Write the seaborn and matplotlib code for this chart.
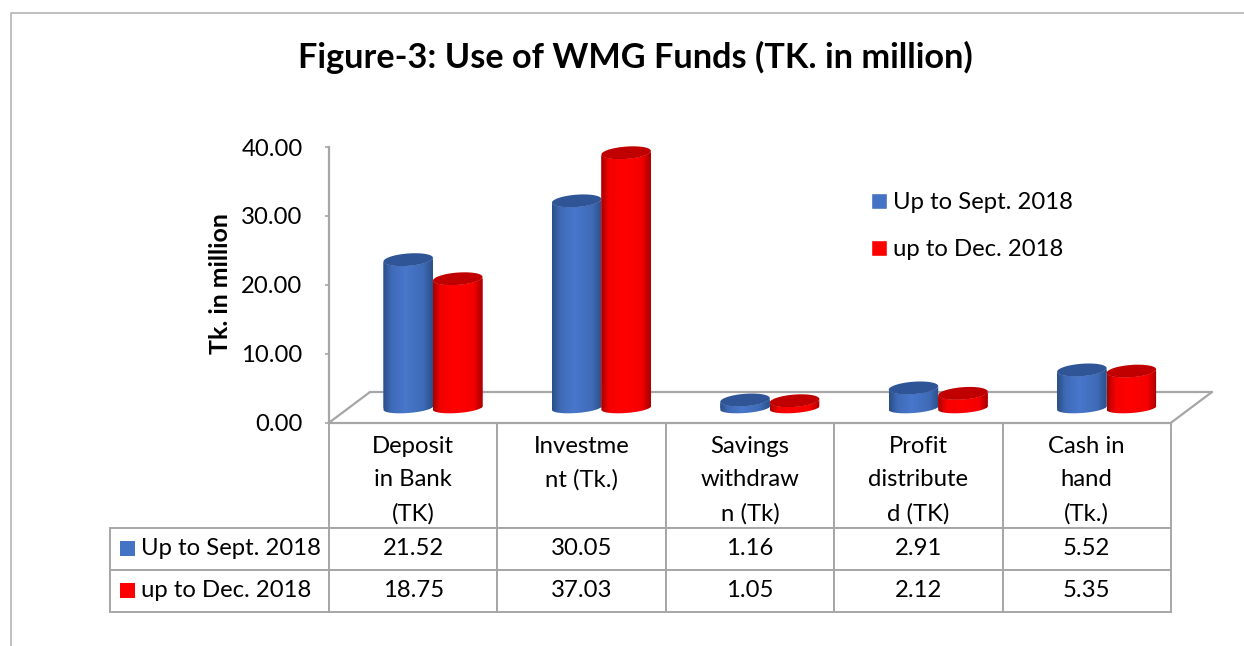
import numpy as np
import pandas as pd
import seaborn as sns
import matplotlib
matplotlib.use("Agg")
import matplotlib.pyplot as plt
from matplotlib.lines import Line2D
from matplotlib.patches import PathPatch, Patch
from matplotlib.path import Path
from matplotlib.colors import LinearSegmentedColormap

categories = ["Deposit\nin Bank\n(TK)", "Investme\nnt (Tk.)\n ", "Savings\nwithdraw\nn (Tk)",
              "Profit\ndistribute\nd (TK)", "Cash in\nhand\n(Tk.)"]
series_names = ["Up to Sept. 2018", "up to Dec. 2018"]
sept_values = [21.52, 30.05, 1.16, 2.91, 5.52]
dec_values = [18.75, 37.03, 1.05, 2.12, 5.35]
y_ticks = [0, 10, 20, 30, 40]

W, H = 1244, 646
GRAY = "#A6A6A6"
BLUE, RED = "#4472C4", "#FF0000"
FONT = "Lato"
FS = 17.2

sns.set_theme(style="white")
plt.rcParams["font.family"] = [FONT, "DejaVu Sans"]

def fx(x): return x / W
def fy(y): return 1 - y / H

fig = plt.figure(figsize=(W / 100, H / 100), dpi=100, facecolor="white")
L, R, T, B = 329, 1171, 147, 422.7
ax = fig.add_axes([fx(L), fy(B), (R - L) / W, (B - T) / H])
ax.patch.set_visible(False)

df = pd.DataFrame({
    "category": categories * 2,
    "series": [series_names[0]] * 5 + [series_names[1]] * 5,
    "value": sept_values + dec_values,
})
sns.barplot(data=df, x="category", y="value", hue="series", order=categories,
            hue_order=series_names, palette=[BLUE, RED], width=0.588, gap=0,
            errorbar=None, legend=False, saturation=1, ax=ax, linewidth=0)

cat_px = (R - L) / 5
ax.set_xlim(-(433 - L) / cat_px, (R - 433) / cat_px)
ax.set_ylim(0, 40)
unit_px = (B - T) / 40
floor = (B - 408) / unit_px        # bars stand on the raised 3D floor
b_top = 6.2 / unit_px              # top ellipse half height
b_low = 5.0 / unit_px              # bottom curve half height
tilt = 1.8 / unit_px               # ellipse tilt

def ramp(dark, mid, hi):
    return LinearSegmentedColormap.from_list("c", [(0, dark), (0.16, mid), (0.45, hi), (0.82, mid), (1, dark)])

cmaps = {BLUE: ramp("#2B5088", "#3E6AB6", "#4877CC"), RED: ramp("#A80000", "#F60000", "#FF0000")}
tops = {BLUE: "#2F5597", RED: "#C00000"}
grad = np.linspace(0, 1, 64).reshape(1, -1)
t = np.linspace(0, 2 * np.pi, 73)
xlim, ylim = ax.get_xlim(), ax.get_ylim()
bars = [p for p in ax.patches if p.get_height() > 0]
for i, p in enumerate(bars):
    colour = BLUE if i < 5 else RED
    x0, w, h = p.get_x(), p.get_width(), p.get_height()
    cx, a = x0 + w / 2, w / 2
    p.set_y(floor)
    zo = 3 + (i % 5) * 2 + (i // 5)
    lo = np.linspace(np.pi, 2 * np.pi, 37)
    hi = lo[::-1]
    xs = np.r_[cx + a * np.cos(lo), cx + a * np.cos(hi)]
    ys = np.r_[floor + b_low * np.sin(lo) + tilt * np.cos(lo),
               floor + h + b_top * np.sin(hi) + tilt * np.cos(hi)]
    body = PathPatch(Path(np.c_[xs, ys]), facecolor="none", edgecolor="none", zorder=zo)
    ax.add_patch(body)
    p.set_zorder(zo)
    p.set_clip_path(body)
    im = ax.imshow(grad, extent=[x0, x0 + w, floor - 2 * b_low, floor + h + 2 * b_top], cmap=cmaps[colour],
                   aspect="auto", zorder=zo, interpolation="bilinear")
    im.set_clip_path(body)
    ax.fill(cx + a * np.cos(t), floor + h + b_top * np.sin(t) + tilt * np.cos(t),
            color=tops[colour], lw=0, zorder=zo + 0.5, clip_on=False)
ax.set_xlim(xlim)
ax.set_ylim(ylim)

# axes
for s in ["top", "right"]:
    ax.spines[s].set_visible(False)
for s in ["left", "bottom"]:
    ax.spines[s].set_color(GRAY)
    ax.spines[s].set_linewidth(1.6)
ax.set_yticks(y_ticks)
ax.set_yticklabels([f"{v:.2f}" for v in y_ticks], fontsize=FS, color="black", family=FONT)
ax.tick_params(axis="y", length=3, width=1.2, color=GRAY, pad=16, left=True)
ax.set_xticks([])
ax.set_xlabel("")
ax.set_ylabel("")
fig.text(fx(221), fy(284), "Tk. in million", rotation=90, ha="center", va="center",
         fontsize=17.9, fontweight="bold", color="black")

# 3D floor
floor_lines = [([L, 370], [B, 392]), ([370, 1212], [392, 392]), ([1212, R], [392, B])]
for xs, ys in floor_lines:
    fig.add_artist(Line2D([fx(v) for v in xs], [fy(v) for v in ys], color=GRAY, lw=1.6, zorder=-1))

# outer frame
fig.add_artist(Line2D([fx(11), fx(11), fx(W)], [fy(H), fy(12.5), fy(12.5)], color="#B4B4B4", lw=1.2, zorder=-1))

# title
fig.text(fx(635), fy(57), "Figure-3: Use of WMG Funds (TK. in million)", ha="center", va="center",
         fontsize=24.7, fontweight="bold", color="black")

# data table
rows = [[""] * 6,
        [series_names[0]] + [f"{v:.2f}" for v in sept_values],
        [series_names[1]] + [f"{v:.2f}" for v in dec_values]]
TL = 110
TB = 611.5
tbl = ax.table(cellText=rows, cellLoc="center",
               bbox=[(TL - L) / (R - L), (B - TB) / (B - T), (R - TL) / (R - L), (TB - B) / (B - T)])
tbl.auto_set_font_size(False)
tbl.set_fontsize(FS)
heights = [105.3, 42, 41.7]
widths = [L - TL] + [cat_px] * 5
for (r, c), cell in tbl.get_celld().items():
    cell.set_height(heights[r] / (TB - B))
    cell.set_width(widths[c] / (R - TL))
    cell.set_edgecolor(GRAY)
    cell.set_linewidth(1.4)
    cell.get_text().set_color("black")
    cell.get_text().set_family(FONT)
    if c == 0:
        cell.PAD = 31 / widths[0]
        cell.set_text_props(ha="left")
        if r == 0:
            cell.set_edgecolor("none")
            cell.set_facecolor("none")
for i, name in enumerate(categories):
    fig.text(fx(L + cat_px * (i + 0.5)), fy(480), name, ha="center", va="center",
             fontsize=FS, linespacing=1.72, color="black")
for yy, colour in zip([548, 590], [BLUE, RED]):
    fig.add_artist(Line2D([fx(126.5)], [fy(yy)], marker="s", ms=10.8, mew=0, color=colour, zorder=6))

# legend
handles = [Patch(facecolor=BLUE, label=series_names[0]), Patch(facecolor=RED, label=series_names[1])]
fig.legend(handles=handles, loc="upper left", bbox_to_anchor=(fx(852), fy(173)), frameon=False,
           prop={"family": FONT, "size": FS}, handlelength=0.65, handleheight=0.65,
           handletextpad=0.25, labelspacing=1.09, borderpad=0.3, labelcolor="black")

fig.savefig("out.png", dpi=100, facecolor="white")
